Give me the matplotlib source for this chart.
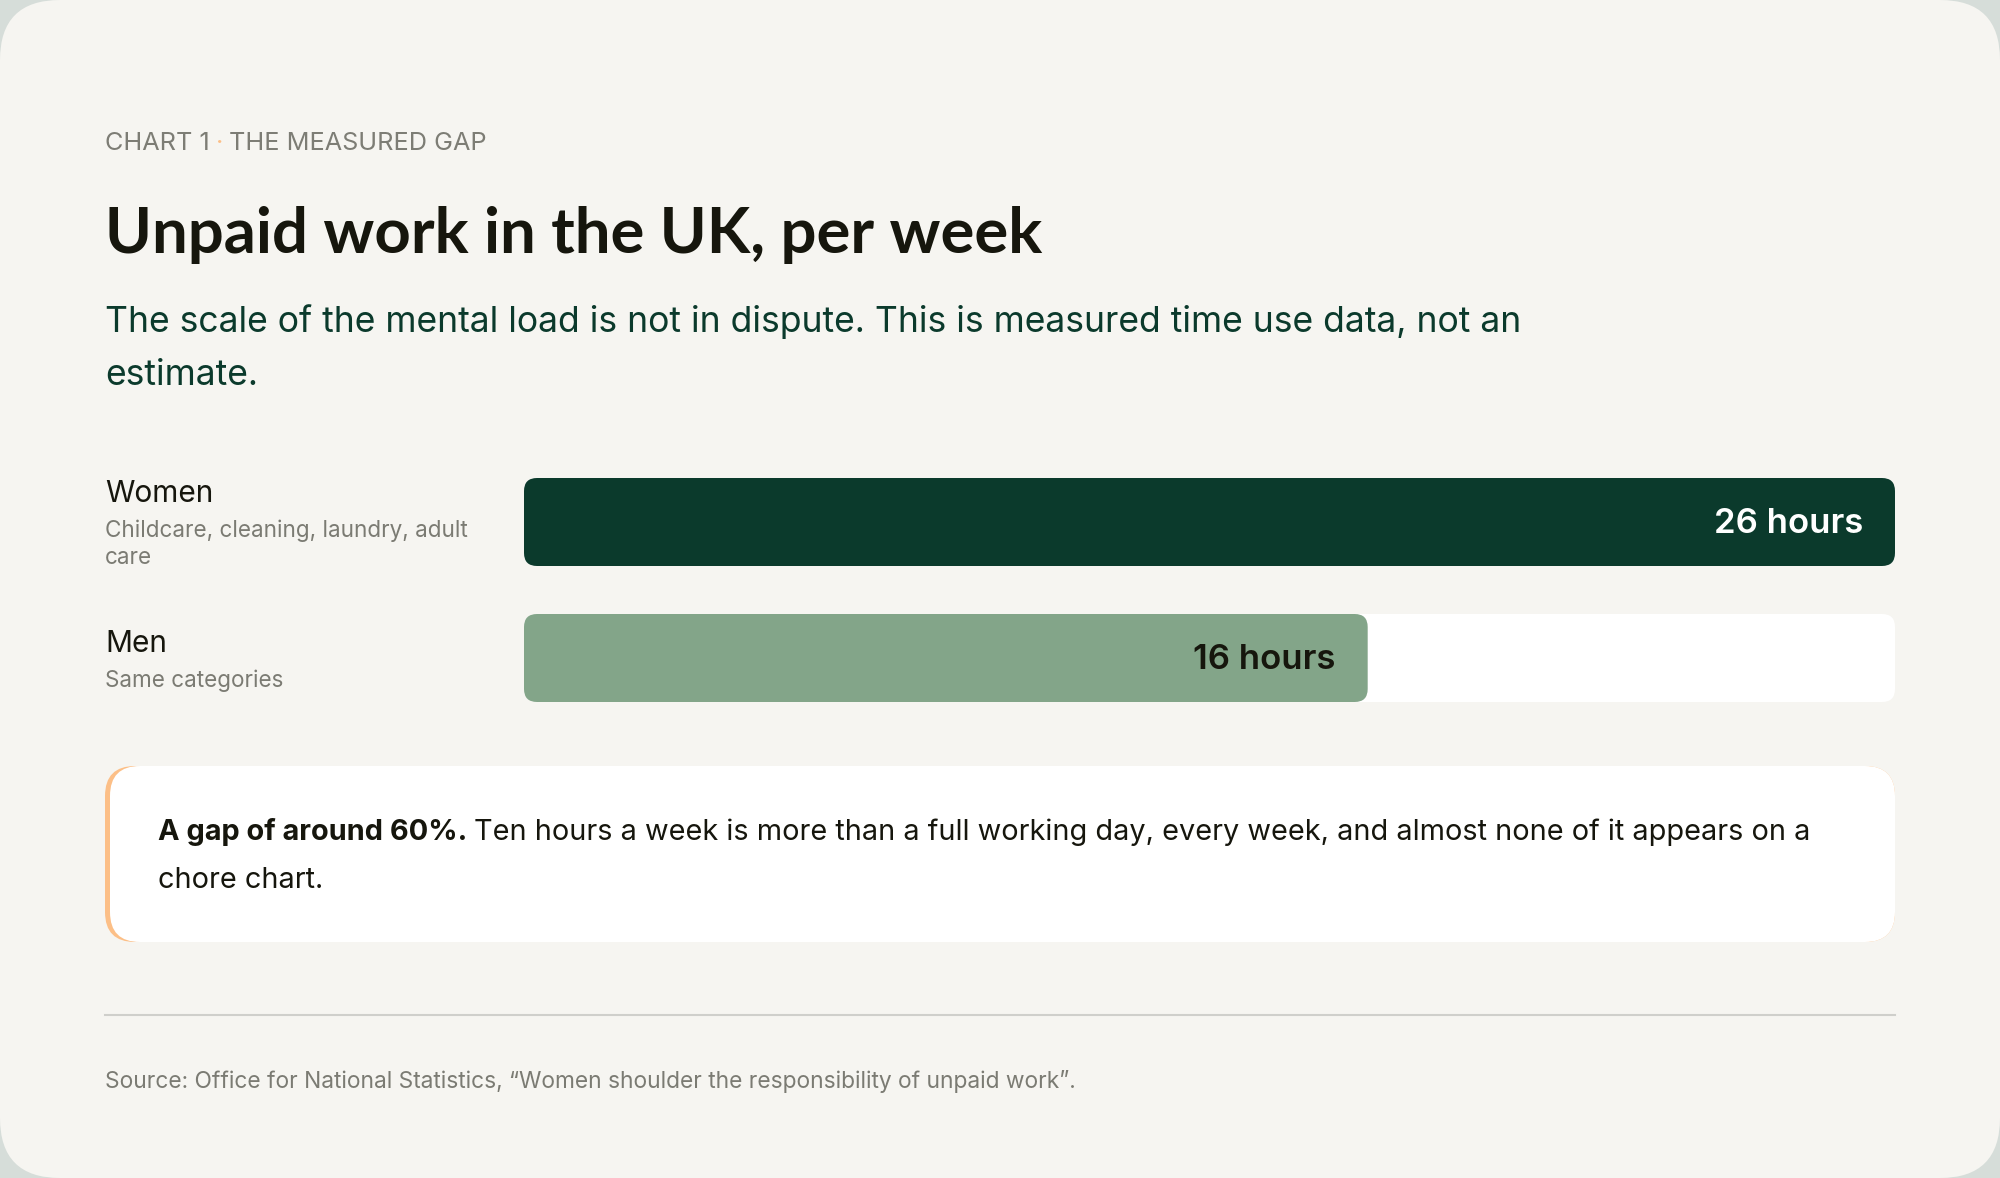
import matplotlib
matplotlib.use("Agg")
import matplotlib.pyplot as plt
from matplotlib.patches import FancyBboxPatch

plt.rcParams['font.family'] = ['Inter', 'DejaVu Sans']

# Chart content
kicker = ["CHART 1", "\u00b7", "THE MEASURED GAP"]
title = "Unpaid work in the UK, per week"
subtitle = ["The scale of the mental load is not in dispute. This is measured time use data, not an",
            "estimate."]
groups = ["Women", "Men"]
group_notes = [["Childcare, cleaning, laundry, adult", "care"], ["Same categories"]]
hours = [26, 16]
value_labels = ["26 hours", "16 hours"]
callout_bold = "A gap of around 60%."
callout_text = ["Ten hours a week is more than a full working day, every week, and almost none of it appears on a",
                "chore chart."]
source = "Source: Office for National Statistics, \u201cWomen shoulder the responsibility of unpaid work\u201d."

# Colours
outer_bg = '#d6ddd9'
card_bg = '#f6f5f1'
ink = '#16160d'
green_dark = '#0b3a2c'
green_light = '#83a589'
muted = '#7b7b73'
orange = '#fcbf87'
bar_colors = [green_dark, green_light]
label_colors = ['#ffffff', ink]

W, H = 2000, 1178
fig = plt.figure(figsize=(W / 100, H / 100), dpi=100)
fig.patch.set_facecolor(outer_bg)

# full-figure axes in pixel units for layout and decoration
ax0 = fig.add_axes([0, 0, 1, 1])
ax0.set_xlim(0, W)
ax0.set_ylim(H, 0)
ax0.axis('off')
ax0.add_patch(FancyBboxPatch((0, 0), W, H, boxstyle="round,pad=0,rounding_size=60",
                             fc=card_bg, ec='none'))

renderer = fig.canvas.get_renderer()


def txt(x, y, s, size, color, weight='normal', ha='left', family=None):
    t = ax0.text(x, y, s, fontsize=size, color=color, fontweight=weight,
                 ha=ha, va='baseline')
    if family:
        t.set_fontfamily(family)
    return t


def width_of(t):
    return t.get_window_extent(renderer).width


# Kicker
left = 105
t = txt(left, 150, kicker[0], 18.2, '#7d7d75')
x = left + width_of(t) + 6
t = txt(x, 150, kicker[1], 18.2, orange)
x += width_of(t) + 6
txt(x, 150, kicker[2], 18.2, '#7d7d75')

# Title and subtitle
txt(left, 253, title, 45.7, ink, weight='bold', family=['Lato', 'DejaVu Sans'])
for i, line in enumerate(subtitle):
    txt(left, 332 + i * 53, line, 25.6, green_dark)

# Row labels
row_base = [502, 652]
for i, g in enumerate(groups):
    txt(left, row_base[i], g, 21.5, ink)
    for j, note in enumerate(group_notes[i]):
        txt(left, row_base[i] + 35 + j * 27, note, 16.2, muted)

# Bars
bx0, bx1, by0, by1 = 524, 1895, 478, 702
ax = fig.add_axes([bx0 / W, 1 - by1 / H, (bx1 - bx0) / W, (by1 - by0) / H])
ax.axis('off')
bar_h = 88 / 136
ax.set_xlim(0, max(hours))
ax.set_ylim(len(groups) - 1 + bar_h / 2, -bar_h / 2)
px_x = (bx1 - bx0) / max(hours)
px_y = (by1 - by0) / (len(groups) - 1 + bar_h)
radius = 13 / px_x
aspect = px_x / px_y
for i, v in enumerate(hours):
    ax.add_patch(FancyBboxPatch((0, i - bar_h / 2), max(hours), bar_h,
                                boxstyle=f"round,pad=0,rounding_size={radius}",
                                mutation_aspect=aspect, fc='#ffffff', ec='none'))
    ax.add_patch(FancyBboxPatch((0, i - bar_h / 2), v, bar_h,
                                boxstyle=f"round,pad=0,rounding_size={radius}",
                                mutation_aspect=aspect, fc=bar_colors[i], ec='none'))
    ax.annotate(value_labels[i], (v, i), xytext=(-23, -8.2), textcoords='offset points',
                ha='right', va='baseline', fontsize=25, fontweight='semibold',
                color=label_colors[i])

# Callout box with orange left edge
cy0, cy1 = 766, 942
ax0.add_patch(FancyBboxPatch((left, cy0), bx1 - left, cy1 - cy0,
                             boxstyle="round,pad=0,rounding_size=30", fc=orange, ec='none'))
ax0.add_patch(FancyBboxPatch((left + 5, cy0), bx1 - left - 5, cy1 - cy0,
                             boxstyle="round,pad=0,rounding_size=30", fc='#ffffff', ec='none'))
t = txt(158, 840, callout_bold, 20.8, ink, weight='bold')
txt(158 + width_of(t) + 7, 840, callout_text[0], 20.8, ink)
txt(158, 888, callout_text[1], 20.8, ink)

# Divider and source
ax0.plot([left, bx1], [1015, 1015], color='#cfcfcb', lw=1.5)
txt(left, 1088, source, 16.4, muted)

fig.savefig('out.png', dpi=100, facecolor=fig.get_facecolor())
